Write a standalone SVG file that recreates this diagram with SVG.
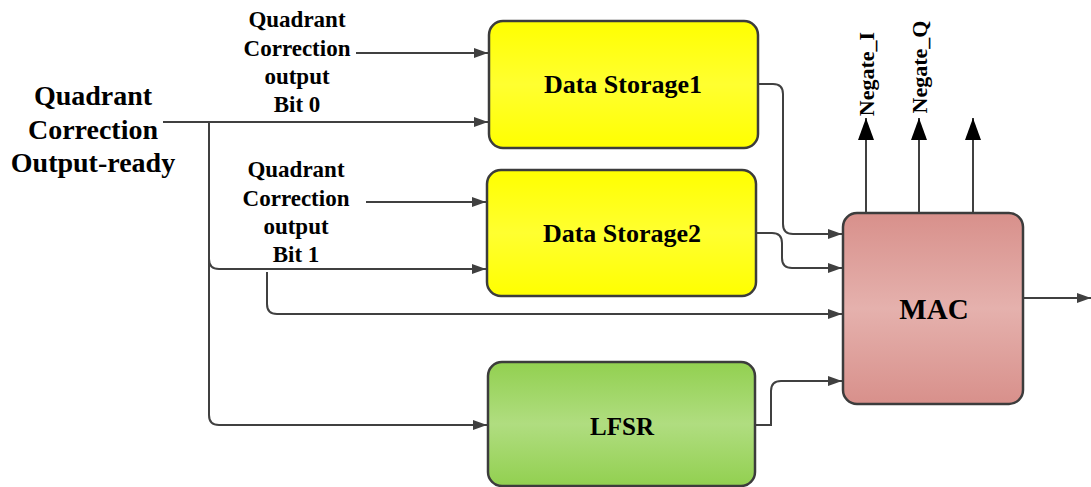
<svg xmlns="http://www.w3.org/2000/svg" width="1091" height="487" viewBox="0 0 1091 487">
<style>
.t{font-family:'Liberation Serif','Times New Roman','DejaVu Serif',serif;font-weight:bold;fill:#000;text-anchor:middle}
.s{font-size:23px}
.box{stroke:#3c3c3c;stroke-width:2.5}
.c{fill:none;stroke:#404040;stroke-width:2}
</style>
<defs>
<linearGradient id="gy" x1="0" y1="0" x2="0" y2="1">
<stop offset="0" stop-color="#ffff00"/><stop offset="0.5" stop-color="#ffff30"/><stop offset="1" stop-color="#ffff00"/>
</linearGradient>
<linearGradient id="gg" x1="0" y1="0" x2="0" y2="1">
<stop offset="0" stop-color="#92d050"/><stop offset="0.5" stop-color="#b0dd80"/><stop offset="1" stop-color="#92d050"/>
</linearGradient>
<linearGradient id="gr" x1="0" y1="0" x2="0" y2="1">
<stop offset="0" stop-color="#d8908b"/><stop offset="0.5" stop-color="#e5b1ad"/><stop offset="1" stop-color="#d8908b"/>
</linearGradient>
<marker id="a" markerWidth="14" markerHeight="10" refX="14" refY="5" orient="auto" markerUnits="userSpaceOnUse">
<path d="M0,0 L14,5 L0,10 Z" fill="#404040"/>
</marker>
<marker id="b" markerWidth="22" markerHeight="16" refX="22" refY="8" orient="auto" markerUnits="userSpaceOnUse">
<path d="M0,0 L22,8 L0,16 Z" fill="#000"/>
</marker>
</defs>

<g id="connectors">
<path class="c" d="M356,53 H488" marker-end="url(#a)"/>
<path class="c" d="M163,122 H488" marker-end="url(#a)"/>
<path class="c" d="M209,122 V259 Q209,269 219,269 H486" marker-end="url(#a)"/>
<path class="c" d="M209,250 V415 Q209,425 219,425 H487" marker-end="url(#a)"/>
<path class="c" d="M366,202 H486" marker-end="url(#a)"/>
<path class="c" d="M267,272 V304 Q267,314 277,314 H842" marker-end="url(#a)"/>
<path class="c" d="M758,84 H773 Q783,84 783,94 V224 Q783,234 793,234 H842" marker-end="url(#a)"/>
<path class="c" d="M756,233 H772 Q782,233 782,243 V258 Q782,268 792,268 H842" marker-end="url(#a)"/>
<path class="c" d="M755,425 H771 V391 Q771,381 781,381 H842" marker-end="url(#a)"/>
<path class="c" d="M1023,298 H1091" marker-end="url(#a)"/>
<path class="c" d="M866,213 V118" marker-end="url(#b)"/>
<path class="c" d="M919,213 V118" marker-end="url(#b)"/>
<path class="c" d="M973,213 V118" marker-end="url(#b)"/>
</g>

<g id="label-ready">
<text class="t" font-size="28" x="93" y="105">Quadrant</text>
<text class="t" font-size="28" x="93" y="139">Correction</text>
<text class="t" font-size="28" x="93" y="172">Output-ready</text>
</g>
<g id="label-bit0">
<text class="t s" x="297" y="27">Quadrant</text>
<text class="t s" x="297" y="56">Correction</text>
<text class="t s" x="297" y="84">output</text>
<text class="t s" x="297" y="112">Bit 0</text>
</g>
<g id="label-bit1">
<text class="t s" x="296" y="177">Quadrant</text>
<text class="t s" x="296" y="206">Correction</text>
<text class="t s" x="296" y="234">output</text>
<text class="t s" x="296" y="262">Bit 1</text>
</g>

<g id="ds1">
<rect class="box" x="489" y="21" width="269" height="127" rx="14" fill="url(#gy)"/>
<text class="t" font-size="26" x="623" y="93">Data Storage1</text>
</g>
<g id="ds2">
<rect class="box" x="487" y="170" width="269" height="126" rx="14" fill="url(#gy)"/>
<text class="t" font-size="26" x="622" y="242">Data Storage2</text>
</g>
<g id="lfsr">
<rect class="box" x="488" y="362" width="267" height="124" rx="14" fill="url(#gg)"/>
<text class="t" font-size="25" x="622" y="435">LFSR</text>
</g>
<g id="mac">
<rect class="box" x="843" y="213" width="180" height="191" rx="14" fill="url(#gr)"/>
<text class="t" font-size="29" x="934" y="319">MAC</text>
</g>
<g id="negate">
<text class="t" font-size="22" transform="translate(874,74) rotate(-90)">Negate_I</text>
<text class="t" font-size="22" transform="translate(927,67) rotate(-90)">Negate_Q</text>
</g>
</svg>
